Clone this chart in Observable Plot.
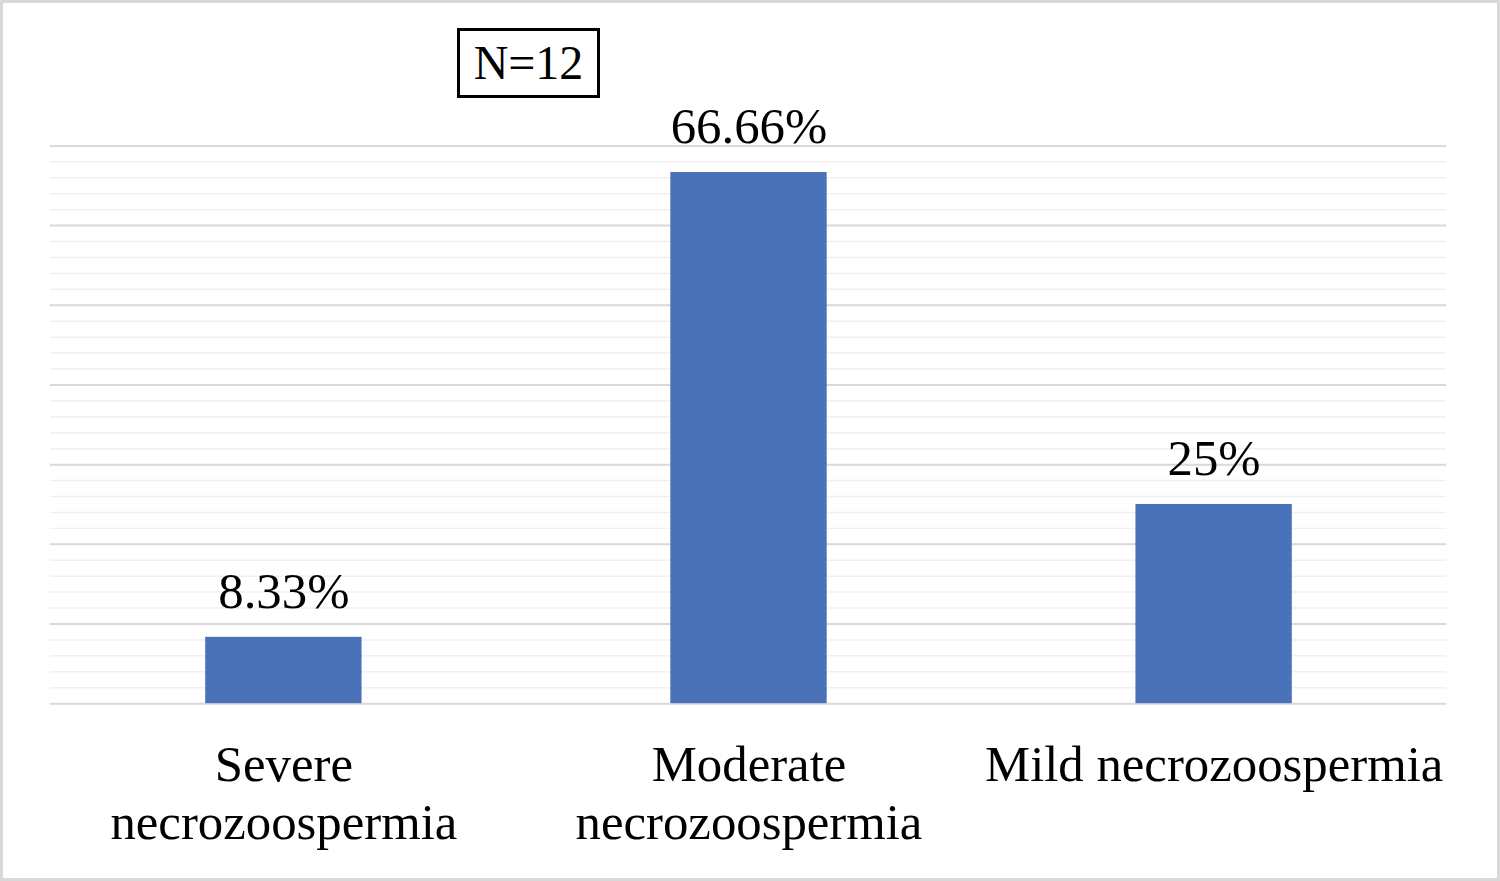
<!DOCTYPE html>
<html><head><meta charset="utf-8">
<script src="https://cdn.jsdelivr.net/npm/d3@7"></script>
<script src="https://cdn.jsdelivr.net/npm/@observablehq/plot@0.6"></script>
<style>
body{margin:0;background:#fff;}
#wrap{position:relative;width:1500px;height:881px;box-sizing:border-box;border:3px solid #d9d9d9;}
#wrap svg{position:absolute;left:-3px;top:-3px;}
#nbox{position:absolute;left:454px;top:25px;width:137px;height:64px;border:3px solid #000;font-family:"Liberation Serif",serif;font-size:48px;line-height:64px;text-align:center;background:#fff;}
</style></head><body>
<div id="wrap"><div id="nbox">N=12</div></div>
<script>
const categories = ["Severe\nnecrozoospermia", "Moderate\nnecrozoospermia", "Mild necrozoospermia"];
const values = [8.33, 66.66, 25];
const valueLabels = ["8.33%", "66.66%", "25%"];
const data = categories.map((c, i) => ({c, v: values[i], l: valueLabels[i]}));
const plot = Plot.plot({
  width: 1500, height: 881,
  marginLeft: 50, marginRight: 48, marginTop: 146, marginBottom: 175,
  style: {fontFamily: "Liberation Serif, serif", background: "transparent"},
  x: {domain: categories, paddingInner: 0.664, paddingOuter: 0.332, axis: null},
  y: {domain: [0, 70], axis: null},
  marks: [
    Plot.ruleY(d3.range(0, 71, 2), {stroke: "#f0f0f0", strokeWidth: 1.5}),
    Plot.ruleY(d3.range(0, 71, 10), {stroke: "#d9d9d9", strokeWidth: 2}),
    Plot.barY(data, {x: "c", y: "v", fill: "#4a72b8"}),
    Plot.text(data, {x: "c", y: "v", text: "l", dy: -46, fontSize: 51, fill: "#000"}),
    Plot.text(data, {x: "c", y: () => 0, text: "c", dy: 36, lineAnchor: "top", lineHeight: 1.15, fontSize: 51, fill: "#000"})
  ]
});
document.getElementById("wrap").appendChild(plot);
</script>
</body></html>
